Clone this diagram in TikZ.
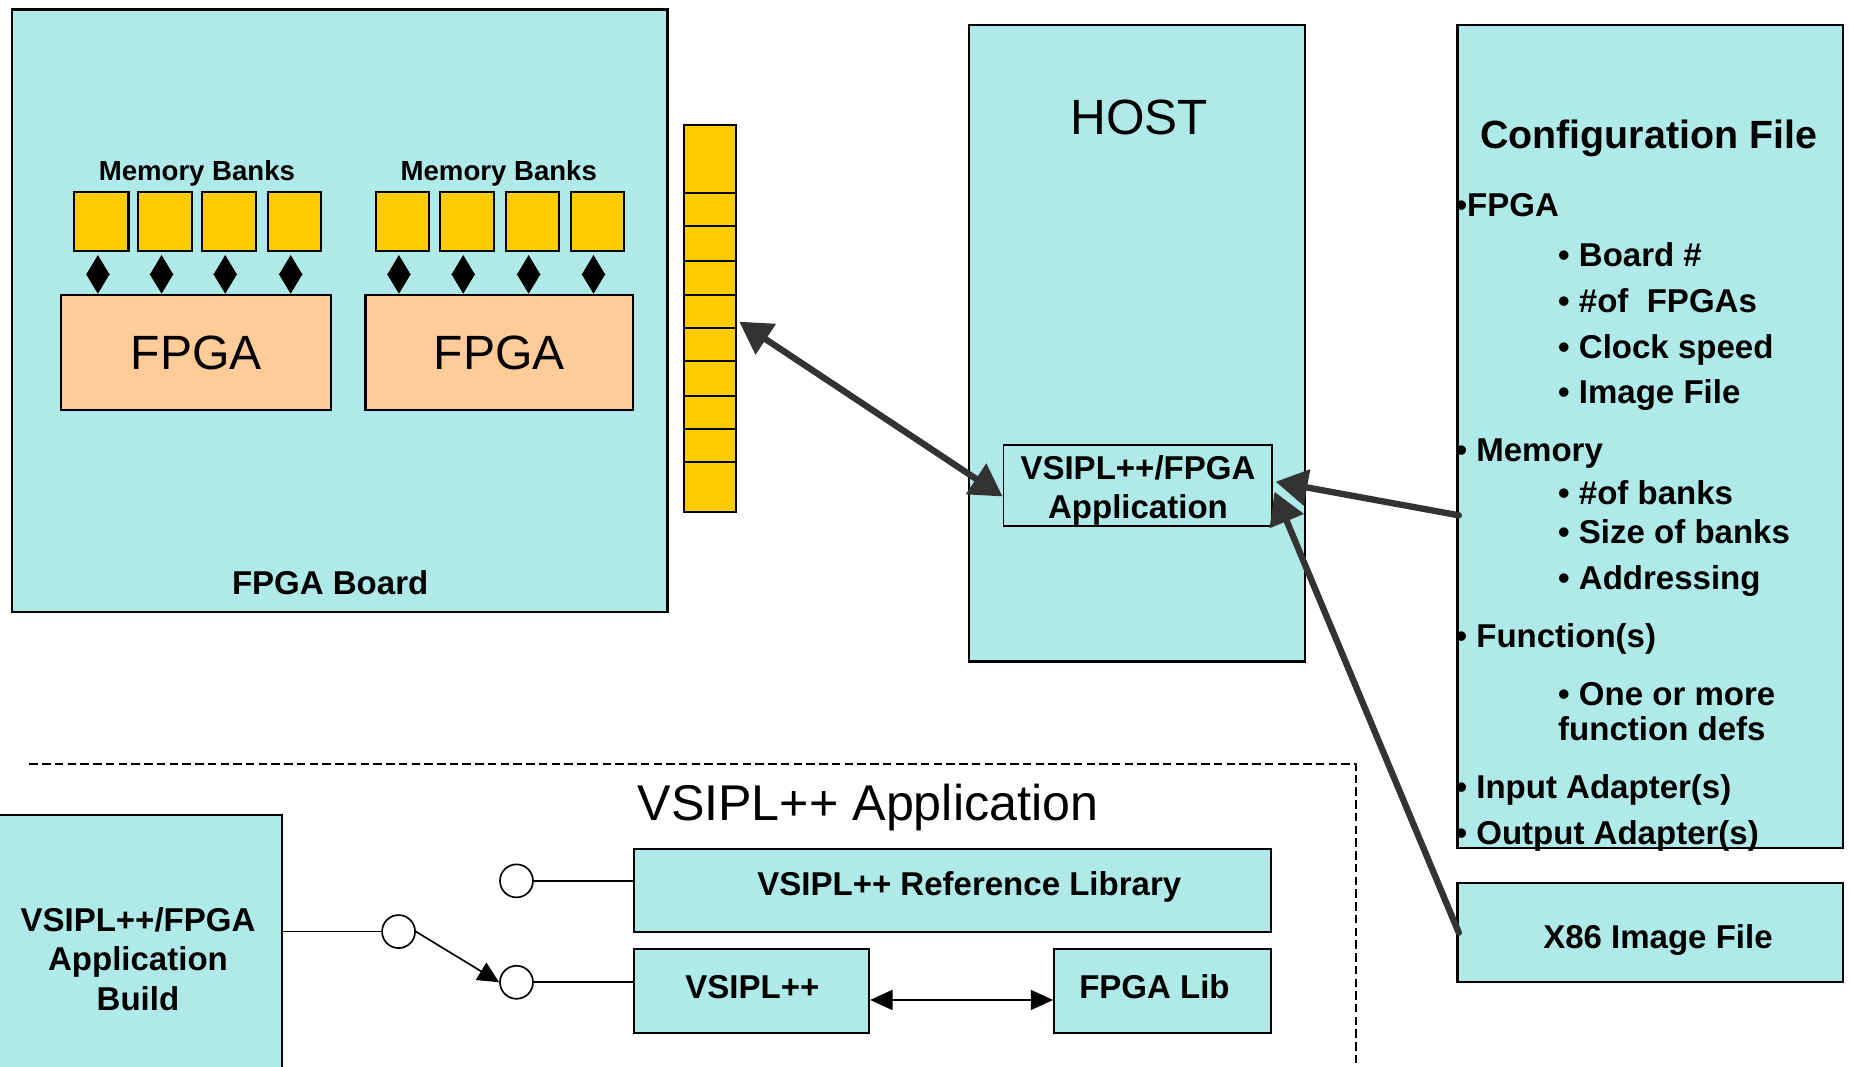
\documentclass[tikz,border=0pt]{standalone}
\usepackage{fontspec}
\setmainfont{Liberation Sans}
\usetikzlibrary{arrows.meta}

\definecolor{panel}{RGB}{176,234,232}
\definecolor{bankfill}{RGB}{255,204,0}
\definecolor{chipfill}{RGB}{255,204,153}
\definecolor{wire}{RGB}{51,51,51}

% \placebox{name}{x1}{y1}{x2}{y2}{style}{text}: a box spanning two corners
\newcommand\placebox[7]{%
  \node[#6, minimum width={(#4-#2)*0.5pt}, minimum height={(#5-#3)*0.5pt}]
    (#1) at ({(#2+#4)/2},{(#3+#5)/2}) {#7};}

\tikzset{
  panelbox/.style={draw=black, fill=panel, line width=0.9pt, inner sep=0pt, align=center,
    font=\fontsize{14}{16.75}\selectfont\bfseries},
  bankbox/.style={draw=black, fill=bankfill, line width=0.9pt, inner sep=0pt},
  chipbox/.style={draw=black, fill=chipfill, line width=0.9pt, inner sep=0pt,
    font=\fontsize{20.4}{24}\selectfont},
  lbl/.style={inner sep=0pt, align=center, font=\fontsize{14}{16.75}\selectfont\bfseries},
  bigtitle/.style={inner sep=0pt, font=\fontsize{21}{25}\selectfont},
  entry/.style={anchor=base west, inner sep=0pt, font=\fontsize{14}{16.75}\selectfont\bfseries},
  memlink/.style={draw=black, line width=0.4pt, shorten <=1.4pt,
    {Triangle[length=8.4pt,width=10pt]}-{Triangle[length=8.4pt,width=10pt]}},
  heavy/.style={draw=wire, line width=2.7pt, line cap=round},
  heavyhead/.tip={Triangle[length=13.5pt,width=15pt]},
  switchdot/.style={circle, draw=black, fill=white, line width=0.7pt, minimum size=14pt, inner sep=0pt},
  thinlink/.style={draw=black, line width=0.7pt},
}

\begin{document}
\begin{tikzpicture}[x=0.5pt, y=-0.5pt]
\useasboundingbox (0,0) rectangle (1568,904);
\clip (0,0) rectangle (1568,904);

% ---------------- FPGA board ----------------
\placebox{board}{10}{8}{566}{519}{panelbox, line width=1pt}{}
\node[lbl] (boardtxt) at (280,494) {FPGA Board};

\node[lbl, font=\fontsize{11.7}{14}\selectfont\bfseries] (memtxtA) at (167,147) {Memory Banks};
\node[lbl, font=\fontsize{11.7}{14}\selectfont\bfseries] (memtxtB) at (423,147) {Memory Banks};

\placebox{fpgaA}{52}{250}{281}{348}{chipbox}{FPGA}
\placebox{fpgaB}{310}{250}{537}{348}{chipbox}{FPGA}

\foreach \xa/\xb [count=\i] in {63/109,117/163,171/217,227/272} {
  \placebox{bankA\i}{\xa}{163}{\xb}{212.6}{bankbox}{}
  \draw[memlink] ([xshift=-1.5pt]bankA\i.south) -- ([xshift=-1.5pt]bankA\i.south |- fpgaA.north);
}
\foreach \xa/\xb [count=\i] in {319/364,373/419,429/474,484/529} {
  \placebox{bankB\i}{\xa}{163}{\xb}{212.6}{bankbox}{}
  \draw[memlink] ([xshift=-1.6pt]bankB\i.south) -- ([xshift=-1.6pt]bankB\i.south |- fpgaB.north);
}

% ---------------- bus stack ----------------
\foreach \ya/\yb [count=\i] in {106/164,164/192,192/221,221/250,250/278,278/306,306/336,336/364,364/392,392/434} {
  \placebox{cell\i}{580}{\ya}{624}{\yb}{bankbox}{}
}

% ---------------- host ----------------
\placebox{host}{822}{21}{1107}{561}{panelbox}{}
\node[bigtitle] (hosttxt) at (966,100) {HOST};
\placebox{app}{851}{377}{1079}{446}{panelbox, line width=0.8pt}{}
\node[lbl] (apptxt) at (965,416) {VSIPL++/FPGA\\Application};

% ---------------- configuration file ----------------
\placebox{cfg}{1236}{21}{1563}{719}{panelbox}{}
\node[inner sep=0pt, font=\fontsize{16.7}{20}\selectfont\bfseries] (cfgtitle) at (1398,117) {Configuration File};
\node[entry] (i1)  at (1234,184) {•FPGA};
\node[entry] (i2)  at (1321,226) {• Board \#};
\node[entry] (i3)  at (1321,265) {• \#of\ \ FPGAs};
\node[entry] (i4)  at (1321,304) {• Clock speed};
\node[entry] (i5)  at (1321,342) {• Image File};
\node[entry] (i6)  at (1234,391) {• Memory};
\node[entry] (i7)  at (1321,428) {• \#of banks};
\node[entry] (i8)  at (1321,461) {• Size of banks};
\node[entry] (i9)  at (1321,500) {• Addressing};
\node[entry] (i10) at (1234,549) {• Function(s)};
\node[entry] (i11) at (1321,598) {• One or more};
\node[entry] (i12) at (1321,628) {function defs};
\node[entry] (i13) at (1234,677) {• Input Adapter(s)};
\node[entry] (i14) at (1234,716) {• Output Adapter(s)};

\placebox{x86}{1236}{749}{1563}{833}{panelbox}{}
\node[lbl] (x86txt) at (1406,797) {X86 Image File};

% ---------------- heavy links ----------------
\draw[heavy, heavyhead-heavyhead] ([yshift=-4.75pt]app.west) -- ([xshift=1pt,yshift=-4.4pt]cell5.east);
\draw[heavy, -heavyhead] ([xshift=1pt,yshift=-33.5pt]cfg.west) -- ([xshift=1pt,yshift=1.5pt]app.east);
\draw[heavy, -heavyhead] ([xshift=1pt]x86.west) -- ([xshift=0.5pt,yshift=-2.75pt]app.east);

% ---------------- VSIPL++ application ----------------
\draw[dashed, dash pattern=on 3.6pt off 1.8pt, line width=0.6pt] (25,648) -- (1150,648) -- (1150,910);
\node[inner sep=0pt, font=\fontsize{21.3}{25}\selectfont] (apptitle) at (736,685) {VSIPL++ Application};

\placebox{build}{-5}{691}{239}{935}{panelbox}{VSIPL++/FPGA\\Application\\Build}

\placebox{reflib}{538}{720}{1078}{790}{panelbox}{}
\node[lbl] (reflibtxt) at (822,752) {VSIPL++ Reference Library};
\placebox{vsipl}{538}{805}{737}{876}{panelbox}{}
\node[lbl] (vsipltxt) at (638,837) {VSIPL++};
\placebox{fpgalib}{894}{805}{1078}{876}{panelbox}{}
\node[lbl] (fpgalibtxt) at (979,837) {FPGA Lib};

\node[switchdot] (c1) at (438,747) {};
\node[switchdot] (c2) at (338,790) {};
\node[switchdot] (c3) at (438,833) {};

\draw[thinlink] (build.east |- c2) -- (c2);
\draw[thinlink] (c1) -- (c1 -| reflib.west);
\draw[thinlink] (c3) -- (c3 -| vsipl.west);
\draw[thinlink, -{Triangle[length=9pt,width=8.5pt]}] (c2.east) -- (c3.west);
\draw[thinlink, {Triangle[length=9.5pt,width=8.5pt]}-{Triangle[length=9.5pt,width=8.5pt]}]
  ([yshift=-3.75pt]vsipl.east) -- ([yshift=-3.75pt]fpgalib.west);
\end{tikzpicture}
\end{document}
